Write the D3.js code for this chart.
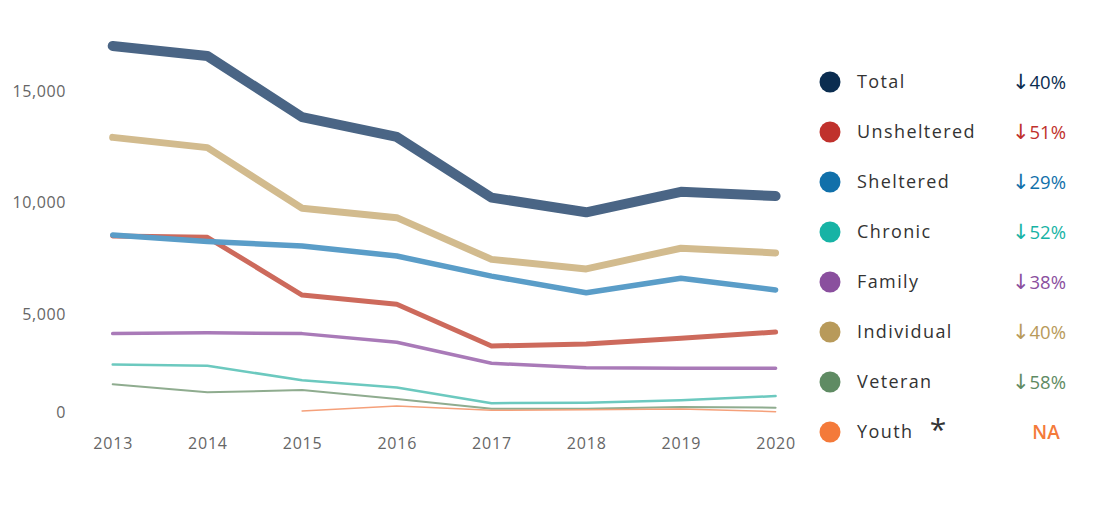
<!DOCTYPE html>
<html><head><meta charset="utf-8">
<script src="https://cdn.jsdelivr.net/npm/d3@7"></script>
<style>
html,body{margin:0;padding:0;background:#fff;}
svg{display:block;font-family:"Open Sans",sans-serif;}
</style></head>
<body><svg id="c" width="1097" height="507"></svg>
<script>
const years = [2013,2014,2015,2016,2017,2018,2019,2020];
const yTicks = [0,5000,10000,15000];
const seriesNames = ["Total","Unsheltered","Sheltered","Chronic","Family","Individual","Veteran","Youth"];
const total       = [17020,16570,13830,12940,10220,9560,10480,10290];
const unsheltered = [8500,8440,5850,5440,3565,3655,3910,4190];
const sheltered   = [8540,8250,8050,7600,6700,5950,6600,6080];
const chronic     = [2740,2680,2030,1700,1000,1020,1130,1320];
const family      = [4120,4160,4120,3730,2790,2590,2565,2565];
const individual  = [12920,12460,9740,9320,7450,7020,7950,7740];
const veteran     = [1850,1490,1590,1190,755,755,830,800];
const youth       = [null,null,650,875,680,710,740,620];
const changes = ["40%","51%","29%","52%","38%","40%","58%","NA"];
const dotColors  = ["#0b2d50","#c0312c","#1170aa","#17b3a5","#8a4f9e","#b89a5a","#5f8b63","#f47a3a"];
const lineColors = ["#4a6585","#cd6a5c","#5a9dc8","#6cc9bf","#a97ab8","#d2bb8e","#8fac8f","#f5a07a"];
const lineWidths = [10,5,5.5,2.5,3.5,7,2,1.5];
const values = [total,unsheltered,sheltered,chronic,family,individual,veteran,youth];

const svg = d3.select("#c");
const x = d3.scalePoint().domain(years).range([112.7,775.6]);
const y = d3.scaleLinear().domain([0,15000]).range([425.5,91]);

// y axis labels
const yAxis = d3.axisLeft(y).tickValues(yTicks).tickFormat(d3.format(",")).tickSize(0).tickPadding(0);
const gy = svg.append("g").attr("transform","translate(66,0)").call(yAxis);
gy.select(".domain").remove();
gy.selectAll("text").attr("font-size",16).attr("fill","#666").attr("font-family","'Open Sans',sans-serif")
  .attr("letter-spacing","0.6px").attr("dy", d => d===0 ? "-0.5em" : "0.34em");

// x axis labels
const xAxis = d3.axisBottom(x).tickSize(0).tickPadding(0);
const gx = svg.append("g").attr("transform","translate(0,438)").call(xAxis);
gx.select(".domain").remove();
gx.selectAll("text").attr("font-size",16).attr("fill","#666").attr("font-family","'Open Sans',sans-serif")
  .attr("letter-spacing","0.8px").attr("dy","0.71em");

// lines; thick total drawn last (on top)
const order = [6,7,3,4,1,2,5,0];
const line = d3.line().defined(d => d.v != null).x(d => x(d.year)).y(d => y(d.v));
order.forEach(i => {
  const data = years.map((yr,j) => ({year:yr, v:values[i][j]}));
  svg.append("path").datum(data)
    .attr("d", line)
    .attr("fill","none")
    .attr("stroke", lineColors[i])
    .attr("stroke-width", lineWidths[i])
    .attr("stroke-linejoin","round")
    .attr("stroke-linecap","round");
});

// legend
const lg = svg.append("g");
seriesNames.forEach((n,i) => {
  const cy = 82 + i*50;
  lg.append("circle").attr("cx",830).attr("cy",cy).attr("r",10.5).attr("fill",dotColors[i]);
  lg.append("text").attr("x",857).attr("y",cy).attr("dy","0.35em").attr("font-size",18)
    .attr("fill","#333").attr("letter-spacing","1.4px").text(n);
  if (changes[i] === "NA") {
    lg.append("text").attr("x",1046).attr("y",cy).attr("dy","0.36em").attr("font-size",19)
      .attr("font-weight",600).attr("text-anchor","middle").attr("fill",dotColors[i]).text("NA");
  } else {
    const t = lg.append("text").attr("x",1066).attr("y",cy + 7)
      .attr("text-anchor","end").attr("fill",dotColors[i]);
    t.append("tspan").attr("font-family","'DejaVu Sans',sans-serif").attr("font-size",21).text("↓");
    t.append("tspan").attr("font-size",18.5).text(changes[i]);
  }
});
lg.append("text").attr("x",938).attr("y",82+7*50).attr("dy","0.25em").attr("font-size",30)
  .attr("text-anchor","middle").attr("fill","#333").text("*");
</script>
</body></html>
